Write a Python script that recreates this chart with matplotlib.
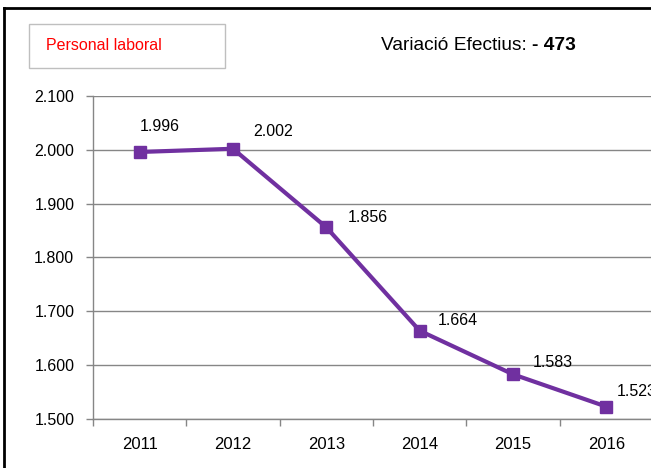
import matplotlib
matplotlib.use("Agg")
import matplotlib.pyplot as plt
from matplotlib.ticker import FuncFormatter
from matplotlib.patches import Rectangle
from matplotlib.lines import Line2D

years = ["2011", "2012", "2013", "2014", "2015", "2016"]
values = [1996, 2002, 1856, 1664, 1583, 1523]
y_ticks = [1500, 1600, 1700, 1800, 1900, 2000, 2100]
legend_label = "Personal laboral"
title_prefix = "Variació Efectius: "
title_value = "- 473"

# label offsets in pixels (style)
label_offsets = [(20, 25), (40, 17), (41, 10), (38, 10), (40, 12), (30, 15)]

FONT = "Liberation Sans"
DPI = 100
W, H = 651, 468
fig = plt.figure(figsize=(W / DPI, H / DPI), dpi=DPI)
fig.patch.set_facecolor("white")

def fx(px):
    return px / W

def fy(py):
    return 1 - py / H

ax = fig.add_axes([fx(93), fy(419), fx(653) - fx(93), fy(96) - fy(419)])
x = list(range(len(years)))
ax.plot(x, values, color="#7030A0", lw=3, marker="s", ms=8.5,
        markerfacecolor="#7030A0", markeredgecolor="#7030A0", zorder=3,
        clip_on=False)
ax.set_xlim(-0.5, len(years) - 0.5)
ax.set_ylim(y_ticks[0], y_ticks[-1])
ax.set_yticks(y_ticks)
ax.yaxis.set_major_formatter(FuncFormatter(lambda v, p: f"{v/1000:.3f}"))
ax.set_xticks(x)
ax.set_xticklabels(years)
ax.set_xticks([i - 0.5 for i in range(len(years) + 1)], minor=True)
ax.tick_params(axis="x", which="major", length=0, pad=13, labelsize=12)
ax.tick_params(axis="x", which="minor", length=5, color="#868686", width=1)
ax.tick_params(axis="y", length=5, color="#868686", width=1, labelsize=11.5, pad=8.5)
for lab in ax.get_xticklabels() + ax.get_yticklabels():
    lab.set_fontfamily(FONT)
ax.grid(axis="y", color="#868686", lw=1)
ax.set_axisbelow(True)
for s in ["top", "right"]:
    ax.spines[s].set_visible(False)
for s in ["left", "bottom"]:
    ax.spines[s].set_color("#868686")
    ax.spines[s].set_linewidth(1)

for xi, v, (dx, dy) in zip(x, values, label_offsets):
    ax.annotate(f"{v/1000:.3f}", (xi, v), xytext=(dx, dy), textcoords="offset pixels",
                ha="center", va="center", fontsize=11.5, fontfamily=FONT,
                color="black", annotation_clip=False, clip_on=False)

# outer border (left and top)
fig.add_artist(Line2D([fx(4), fx(4)], [fy(8), 0], color="black", lw=2,
                      transform=fig.transFigure))
fig.add_artist(Line2D([fx(4), 1], [fy(8), fy(8)], color="black", lw=2,
                      transform=fig.transFigure))

# legend box
fig.add_artist(Rectangle((fx(29), fy(68)), fx(225) - fx(29), fy(24) - fy(68),
                         transform=fig.transFigure, facecolor="white",
                         edgecolor="#BFBFBF", lw=1))
fig.text(fx(46), fy(46), legend_label, color="#FF0000", fontsize=11.5,
         fontfamily=FONT, ha="left", va="center")

# title
t1 = fig.text(fx(381), fy(45), title_prefix, fontsize=13.8, fontfamily=FONT,
              ha="left", va="center", color="black")
fig.canvas.draw()
bb = t1.get_window_extent()
fig.text(bb.x1 / W, fy(45), title_value, fontsize=13.8, fontfamily=FONT,
         fontweight="bold", ha="left", va="center", color="black")

fig.savefig("out.png", dpi=DPI)
